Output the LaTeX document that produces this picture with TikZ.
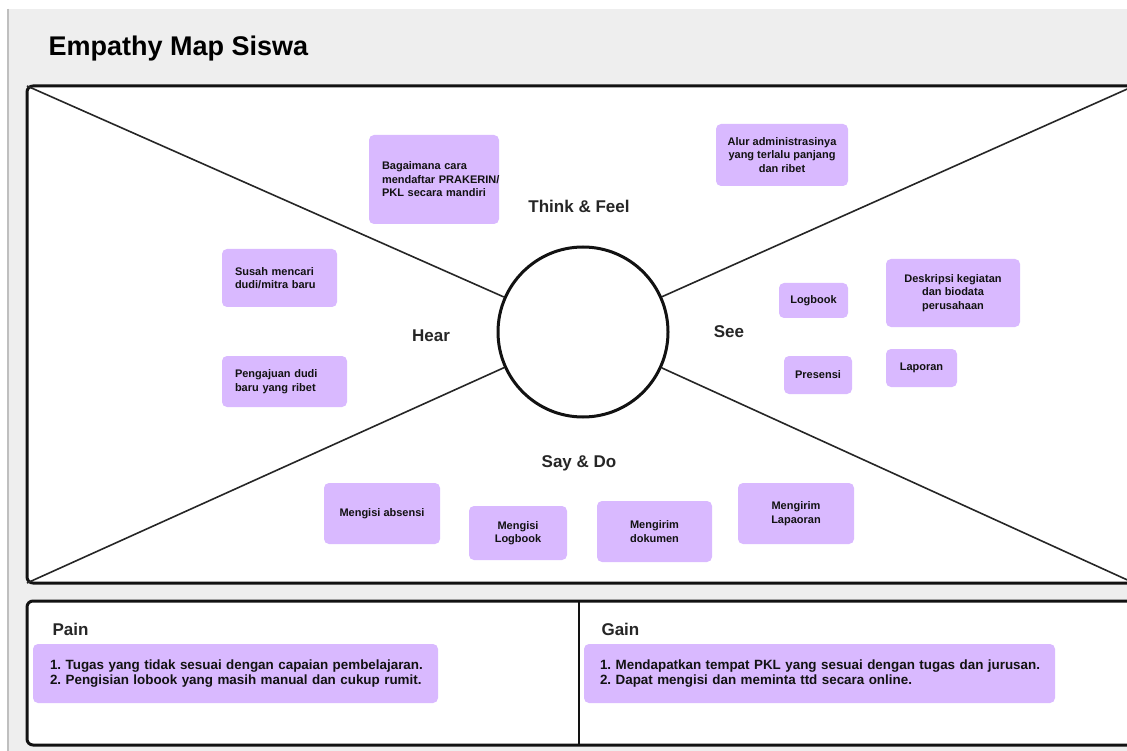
\documentclass[tikz,border=0pt]{standalone}
\usepackage{fontspec}
\setmainfont{Liberation Sans}
\frenchspacing
\definecolor{sticky}{RGB}{217,185,255}
\definecolor{canvasgray}{RGB}{238,238,238}
\definecolor{ink}{RGB}{18,18,18}
\begin{document}
\begin{tikzpicture}[x=1pt,y=1pt,
		note/.style={fill=sticky,rounded corners=5pt,inner sep=0pt,text=ink,font=\fontsize{11}{13.5}\selectfont\bfseries},
		lnote/.style={note,align=left},
		cnote/.style={note,align=center},
		listbox/.style={note,align=left,font=\fontsize{13.4}{15}\selectfont\bfseries},
		zone/.style={text=black!85,font=\fontsize{17}{20}\selectfont\bfseries},
		frame/.style={draw=ink,line width=3pt,rounded corners=6pt,fill=white},
		ray/.style={draw=black!85,line width=1.6pt}]
				\useasboundingbox (0,0) rectangle (1127,-751);
				\fill[white] (0,0) rectangle (1127,-751);
				\fill[canvasgray] (7,-9) rectangle (1127,-751);
				\draw[black!25,line width=2pt] (8,-9) -- (8,-751);
				\node[anchor=base west,font=\fontsize{27}{30}\selectfont\bfseries] (title) at (45,-56) {Empathy Map Siswa};
				\draw[frame] (27,-86) rectangle (1134,-583);
				\coordinate (tl) at (27,-86);
				\coordinate (tr) at (1134,-86);
				\coordinate (bl) at (27,-583);
				\coordinate (br) at (1134,-583);
				\node[draw=ink,line width=3pt,circle,minimum size=170pt,fill=white] (core) at (583,-332) {};
				\draw[ray] (tl) -- (core);
				\draw[ray] (tr) -- (core);
				\draw[ray] (bl) -- (core);
				\draw[ray] (br) -- (core);
				\node[zone] (think) at (579,-206) {Think \& Feel};
				\node[zone] (hear) at (431,-336) {Hear};
				\node[zone] (see) at (729,-332) {See};
				\node[zone] (say) at (579,-463) {Say \& Do};
				\node[lnote,minimum width=130pt,minimum height=89pt,text width=104pt] (cara) at (434,-179.5) {Bagaimana cara\\\mbox{mendaftar PRAKERIN/}\\\mbox{PKL secara mandiri}};
				\node[cnote,minimum width=132pt,minimum height=62pt] (alur) at (782,-155) {Alur administrasinya\\yang terlalu panjang\\dan ribet};
				\node[lnote,minimum width=115pt,minimum height=58pt,text width=89pt] (susah) at (279.5,-278) {Susah mencari\\\mbox{dudi/mitra baru}};
				\node[lnote,minimum width=125pt,minimum height=51pt,text width=99pt] (ajuan) at (284.5,-381.5) {Pengajuan dudi\\\mbox{baru yang ribet}};
				\node[cnote,minimum width=69pt,minimum height=35pt] (logbook) at (813.5,-300.5) {Logbook};
				\node[cnote,minimum width=134pt,minimum height=68pt] (deskripsi) at (953,-293) {Deskripsi kegiatan\\dan biodata\\perusahaan};
				\node[cnote,minimum width=68pt,minimum height=38pt] (presensi) at (818,-375) {Presensi};
				\node[cnote,minimum width=71pt,minimum height=38pt] (laporan) at (921.5,-368) {Laporan};
				\node[cnote,minimum width=116pt,minimum height=61pt] (absensi) at (382,-513.5) {Mengisi absensi};
				\node[cnote,minimum width=98pt,minimum height=54pt] (isilog) at (518,-533) {Mengisi\\Logbook};
				\node[cnote,minimum width=115pt,minimum height=61pt] (dokumen) at (654.5,-531.5) {Mengirim\\dokumen};
				\node[cnote,minimum width=116pt,minimum height=61pt] (kirimlap) at (796,-513.5) {Mengirim\\Lapaoran};
				\draw[frame] (27,-601) rectangle (1134,-745);
				\draw[ink,line width=2pt] (579,-601) -- (579,-745);
				\node[zone,anchor=west] (pain) at (49,-629) {Pain};
				\node[zone,anchor=west] (gain) at (598,-629) {Gain};
				\node[listbox,minimum width=405pt,minimum height=59pt,text width=371pt] (painlist) at (235.5,-673.5) {\mbox{1. Tugas yang tidak sesuai dengan capaian pembelajaran.}\\\mbox{2. Pengisian lobook yang masih manual dan cukup rumit.}};
				\node[listbox,minimum width=471pt,minimum height=59pt,text width=439pt] (gainlist) at (819.5,-673.5) {\mbox{1. Mendapatkan tempat PKL yang sesuai dengan tugas dan jurusan.}\\\mbox{2. Dapat mengisi dan meminta ttd secara online.}};
\end{tikzpicture}
\end{document}
